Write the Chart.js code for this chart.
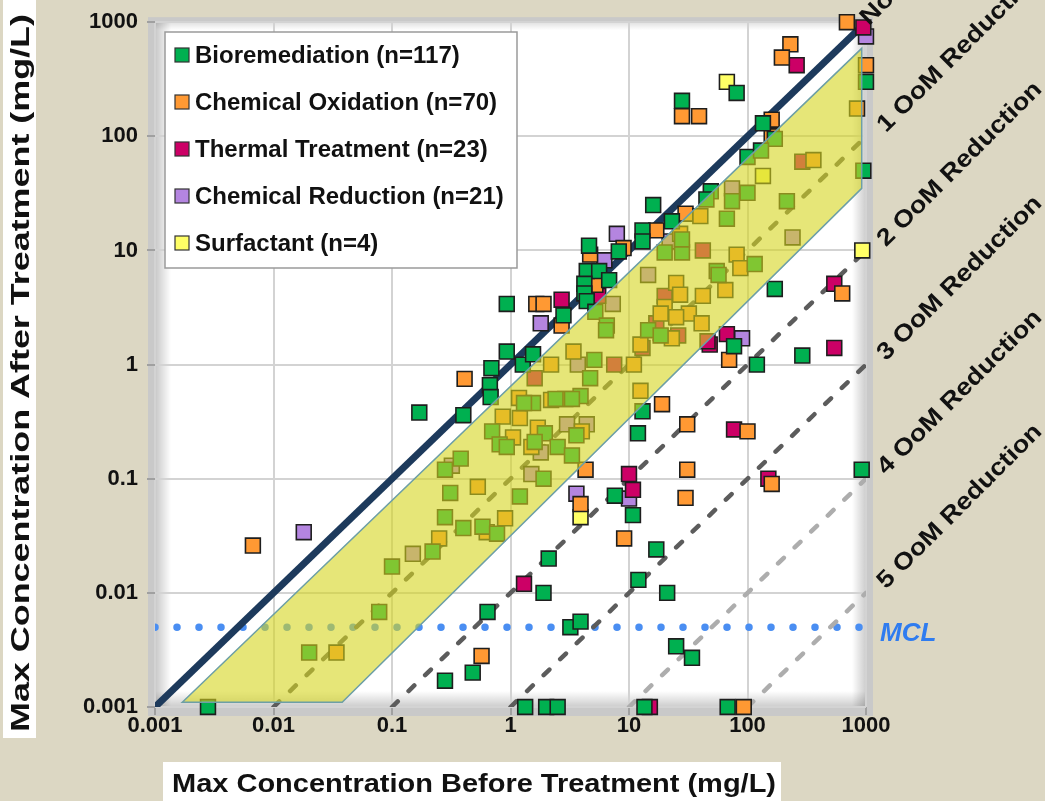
<!DOCTYPE html>
<html>
<head>
<meta charset="utf-8">
<script src="https://cdn.jsdelivr.net/npm/chart.js@4.4.1/dist/chart.umd.min.js"></script>
<style>
  html, body { margin: 0; padding: 0; background: #dcd7c3; }
  #wrap { width: 1045px; height: 801px; }
</style>
</head>
<body>
<div id="wrap"><canvas id="myChart" width="1045" height="801"></canvas></div>
<script>
// axis ticks (decades)
const decadeTicks = [0.001, 0.01, 0.1, 1, 10, 100, 1000];
const decadeLabels = ['0.001', '0.01', '0.1', '1', '10', '100', '1000'];

// reference lines
const reductionOrders = [1, 2, 3, 4, 5];
const mcl = 0.005;
// "typical" band (yellow parallelogram)
const bandCorners = [[0.0017, 0.0011], [920, 590], [920, 35], [0.038, 0.0011]];

const seriesNames = ['Bioremediation (n=117)', 'Chemical Oxidation (n=70)', 'Thermal Treatment (n=23)',
    'Chemical Reduction (n=21)', 'Surfactant (n=4)'];
const seriesColors = ['#00b050', '#ff9933', '#cc0066', '#b485e0', '#ffff66'];

// [before, after] in mg/L
const bioremediation = [[1000,300],[950,50],[920,0.12],[81,240],[28,205],[135,130],[170,95],[100,66],[130,75],
    [215,27],[100,32],[74,27],[67,19],[16,25],[49,33],[45,28],[13,15],[13,12],[23,18],[4.6,11],[8.2,9.8],
    [4.4,6.6],[5.6,6.6],[6.8,5.5],[4.2,5.1],[4.2,4.2],[4.4,3.6],[5.2,2.9],[6.5,2.2],[2.8,2.7],[0.93,3.4],
    [0.93,1.3],[1.27,1.0],[1.55,1.23],[0.69,0.93],[0.67,0.66],[0.68,0.52],[0.17,0.38],[0.4,0.36],[28,9.6],
    [20,9.6],[28,12.5],[55,6.6],[115,7.6],[57,6.1],[170,4.6],[290,1.2],[120,1.0],[77,1.45],[14.5,2.0],
    [18.5,1.8],[6.4,2.0],[5.1,1.1],[4.7,0.76],[3.9,0.53],[2.4,0.5],[3.3,0.5],[1.55,0.46],[1.3,0.46],
    [1.95,0.25],[0.7,0.26],[0.81,0.2],[0.93,0.19],[1.6,0.21],[2.5,0.19],[3.3,0.16],[3.6,0.24],[0.38,0.15],
    [0.28,0.12],[0.31,0.075],[1.9,0.1],[1.2,0.07],[13,0.39],[11.9,0.25],[7.6,0.071],[10.8,0.048],[17,0.024],
    [2.1,0.02],[1.9,0.01],[12,0.013],[21,0.01],[3.2,0.005],[3.9,0.0056],[25,0.0034],[34,0.0027],[1.33,0.001],
    [2.0,0.001],[2.5,0.001],[13.5,0.001],[68,0.001],[0.0028,0.001],[0.02,0.003],[0.078,0.0068],[0.1,0.017],
    [0.22,0.023],[0.28,0.046],[0.4,0.037],[0.58,0.038],[0.77,0.033],[0.64,0.0068],[0.48,0.002],[0.28,0.0017]];
const chemicalOxidation = [[690,1000],[230,640],[195,490],[28,150],[39,150],[160,140],[160,100],[360,62],
    [30,21],[40,20],[17,15],[27,14],[9,10.5],[4.7,9.2],[1.65,3.4],[1.9,3.4],[2.7,2.2],[5.2,5.0],[1000,420],
    [840,175],[630,4.2],[70,1.1],[19,0.45],[31,0.3],[31,0.12],[4.3,0.12],[100,0.26],[160,0.09],[3.9,0.06],
    [9.1,0.03],[93,0.001],[30,0.068],[0.0067,0.026],[0.034,0.003],[0.25,0.03],[0.63,0.034],[0.9,0.045],
    [0.53,0.085],[0.57,0.0028],[0.41,0.75],[2.2,1.0],[1.18,0.51],[0.86,0.35],[1.2,0.34],[1.05,0.23],[1.5,0.19],
    [1.7,0.28],[2.2,0.49],[2.9,0.5],[81,9.2],[87,7],[65,4.5],[42,4],[25,5.2],[27,4.1],[32,2.8],[20,3.2],
    [25,2.6],[41,2.3],[18.5,2.8],[23,1.7],[12.5,1.5],[11,1.0],[3.4,1.3],[4,0.26],[12.5,0.59]];
const thermalTreatment = [[950,900],[260,420],[290,60],[540,5.1],[540,1.4],[67,1.85],[48,1.5],[46,1.6],
    [10,0.11],[10.8,0.08],[77,0.27],[150,0.1],[1.3,0.012],[15,0.001],[2.7,3.7],[5.5,4.0],[42,10],[20,4],
    [17,2.3],[26,1.8],[13,1.4],[7.5,1.0],[1.6,0.76]];
const chemicalReduction = [[1000,750],[240,13],[74,35],[7.9,14],[22,12],[6.2,8.2],[7.3,3.4],[14.5,6.1],
    [1.8,2.3],[3.7,1.0],[3.0,0.3],[4.4,0.3],[1.8,0.17],[1.5,0.11],[0.32,0.13],[0.15,0.022],[0.018,0.034],
    [3.6,0.074],[10,0.067],[90,1.7]];
const surfactant = [[67,300],[135,45],[930,10],[3.9,0.046]];

const seriesData = [bioremediation, chemicalOxidation, thermalTreatment, chemicalReduction, surfactant];

const axisMin = 0.001, axisMax = 1000;
const family = '"Liberation Sans", Arial, Helvetica, sans-serif';

// points
const pointSets = seriesData.map((d, i) => ({
    label: seriesNames[i],
    data: d.map(p => ({x: p[0], y: p[1]})),
    pointStyle: 'rect',
    pointRadius: 10.5,
    pointBackgroundColor: seriesColors[i],
    pointBorderColor: '#1e1e1e',
    pointBorderWidth: 1.6,
    showLine: false,
    clip: false,
    order: i
}));

// 1:1 line, OoM lines and MCL
const lineSets = [{
    data: [{x: axisMin, y: axisMin}, {x: axisMax, y: axisMax}],
    borderColor: '#1d3a5c', borderWidth: 7
}].concat(reductionOrders.map(n => ({
    data: [{x: axisMin * Math.pow(10, n), y: axisMin}, {x: axisMax, y: axisMax / Math.pow(10, n)}],
    borderColor: n <= 3 ? '#5c5c5c' : '#adadad', borderWidth: 4.5,
    borderDash: [8, 15], borderCapStyle: 'round'
}))).concat([{
    data: [{x: axisMin, y: mcl}, {x: axisMax, y: mcl}],
    borderColor: '#4a8ef2', borderWidth: 7.5,
    borderDash: [0, 22], borderCapStyle: 'round'
}]).map(d => Object.assign({showLine: true, pointRadius: 0, order: 20, fill: false}, d));

function fitText(ctx, text, x, y, width) {
    const w = ctx.measureText(text).width;
    ctx.save();
    ctx.translate(x, y);
    ctx.scale(width / w, 1);
    ctx.fillText(text, 0, 0);
    ctx.restore();
}

const backdrop = {
    id: 'backdrop',
    beforeDraw(chart) {
        const ctx = chart.ctx, a = chart.chartArea;
        ctx.save();
        ctx.fillStyle = '#dcd7c3';
        ctx.fillRect(0, 0, chart.width, chart.height);
        ctx.fillStyle = '#c9c9c9';
        ctx.fillRect(a.left - 7, a.top - 5, a.right - a.left + 14, a.bottom - a.top + 14);
        ctx.fillStyle = '#ffffff';
        ctx.fillRect(a.left, a.top, a.right - a.left, a.bottom - a.top);
        const shade = (x0, y0, x1, y1, rx, ry, rw, rh, alpha) => {
            const g = ctx.createLinearGradient(x0, y0, x1, y1);
            g.addColorStop(0, 'rgba(0,0,0,' + alpha + ')');
            g.addColorStop(1, 'rgba(0,0,0,0)');
            ctx.fillStyle = g;
            ctx.fillRect(rx, ry, rw, rh);
        };
        shade(a.left, 0, a.left + 16, 0, a.left, a.top, 16, a.bottom - a.top, 0.22);
        shade(a.right, 0, a.right - 14, 0, a.right - 14, a.top, 14, a.bottom - a.top, 0.2);
        shade(0, a.bottom, 0, a.bottom - 16, a.left, a.bottom - 16, a.right - a.left, 16, 0.2);
        shade(0, a.top, 0, a.top + 8, a.left, a.top, a.right - a.left, 8, 0.12);
        ctx.restore();
    }
};

const band = {
    id: 'band',
    afterDatasetsDraw(chart) {
        const ctx = chart.ctx, a = chart.chartArea;
        const xs = chart.scales.x, ys = chart.scales.y;
        ctx.save();
        ctx.beginPath();
        ctx.rect(a.left, a.top, a.right - a.left, a.bottom - a.top);
        ctx.clip();
        ctx.beginPath();
        bandCorners.forEach((c, i) => {
            const px = xs.getPixelForValue(c[0]), py = ys.getPixelForValue(c[1]);
            if (i === 0) ctx.moveTo(px, py); else ctx.lineTo(px, py);
        });
        ctx.closePath();
        ctx.fillStyle = 'rgba(213,213,30,0.6)';
        ctx.fill();
        ctx.strokeStyle = '#6d9fa6';
        ctx.lineWidth = 1.5;
        ctx.stroke();
        ctx.restore();
    }
};

const annotations = {
    id: 'annotations',
    afterDraw(chart) {
        const ctx = chart.ctx, a = chart.chartArea, ys = chart.scales.y;
        ctx.save();

        // legend
        ctx.fillStyle = '#ffffff';
        ctx.strokeStyle = '#9a9a9a';
        ctx.lineWidth = 1.5;
        ctx.fillRect(165, 32, 352, 236);
        ctx.strokeRect(165, 32, 352, 236);
        ctx.font = 'bold 24px ' + family;
        ctx.textBaseline = 'middle';
        ctx.textAlign = 'left';
        seriesNames.forEach((name, i) => {
            const cy = 55 + i * 47;
            ctx.fillStyle = seriesColors[i];
            ctx.fillRect(175, cy - 7, 14, 14);
            ctx.strokeStyle = '#333';
            ctx.lineWidth = 1.2;
            ctx.strokeRect(175, cy - 7, 14, 14);
            ctx.fillStyle = '#111';
            ctx.fillText(name, 195, cy + 1);
        });

        // axis titles
        ctx.fillStyle = '#ffffff';
        ctx.fillRect(3, 0, 33, 738);
        ctx.fillRect(163, 762, 618, 39);
        ctx.fillStyle = '#111';
        ctx.textBaseline = 'alphabetic';
        ctx.font = 'bold 26px ' + family;
        fitText(ctx, 'Max Concentration Before Treatment (mg/L)', 172, 792, 604);
        ctx.save();
        ctx.translate(29, 732);
        ctx.rotate(-Math.PI / 2);
        fitText(ctx, 'Max Concentration After Treatment (mg/L)', 0, 0, 718);
        ctx.restore();

        // reduction labels
        ctx.font = 'bold 24px ' + family;
        [0].concat(reductionOrders).forEach(n => {
            const text = n === 0 ? 'No Reduction' : n + ' OoM Reduction';
            const y = ys.getPixelForValue(axisMax / Math.pow(10, n)) + (n === 0 ? 4 : -3);
            ctx.save();
            ctx.translate(a.right + (n === 0 ? 3 : 20), y);
            ctx.rotate(-45 * Math.PI / 180);
            fitText(ctx, text, 0, 0, n === 0 ? 180 : 222);
            ctx.restore();
        });

        // MCL label
        ctx.fillStyle = '#2f7cf0';
        ctx.font = 'italic bold 26px ' + family;
        ctx.textBaseline = 'middle';
        ctx.fillText('MCL', a.right + 14, ys.getPixelForValue(mcl) + 7);
        ctx.restore();
    }
};

const tickFont = {family: family, size: 22, weight: 'bold'};
const decadeOnly = scale => { scale.ticks = decadeTicks.map(v => ({value: v})); };

new Chart(document.getElementById('myChart').getContext('2d'), {
    type: 'scatter',
    data: {datasets: pointSets.concat(lineSets)},
    options: {
        responsive: false,
        animation: false,
        events: [],
        layout: {padding: {left: 0, top: 20, right: 179, bottom: 0}, autoPadding: false},
        plugins: {legend: {display: false}, tooltip: {enabled: false}},
        scales: {
            x: {
                type: 'logarithmic', min: axisMin, max: axisMax,
                afterBuildTicks: decadeOnly,
                afterFit: s => { s.height = 94; },
                ticks: {
                    font: tickFont, color: '#111', padding: -2, maxRotation: 0, autoSkip: false,
                    callback: v => decadeLabels[decadeTicks.indexOf(v)]
                },
                grid: {color: '#d3d3d3', lineWidth: 2, tickLength: 8, tickColor: '#a0a0a0'},
                border: {display: false}
            },
            y: {
                type: 'logarithmic', min: axisMin, max: axisMax,
                afterBuildTicks: decadeOnly,
                afterFit: s => { s.width = 155; },
                ticks: {
                    font: tickFont, color: '#111', padding: 9, autoSkip: false,
                    callback: v => decadeLabels[decadeTicks.indexOf(v)]
                },
                grid: {color: '#d3d3d3', lineWidth: 2, tickLength: 8, tickColor: '#a0a0a0'},
                border: {display: false}
            }
        }
    },
    plugins: [backdrop, band, annotations]
});
</script>
</body>
</html>
